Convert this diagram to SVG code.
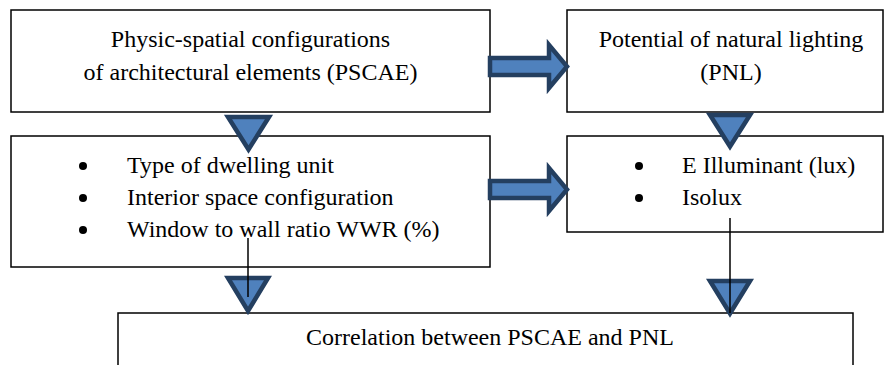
<svg xmlns="http://www.w3.org/2000/svg" width="884" height="365" viewBox="0 0 884 365">
<defs>
<style>
.box{fill:#fff;stroke:#000;stroke-width:1.5}
.t{font-family:"Liberation Serif","Times New Roman",serif;font-size:24px;fill:#000}
.c{text-anchor:middle}
.blk{fill:#4F81BD;stroke:#243F60;stroke-width:4.5;stroke-linejoin:miter}
.ln{stroke:#000;stroke-width:1.5;fill:none}
.dot{fill:#000}
</style>
</defs>
<rect width="884" height="365" fill="#fff"/>
<g id="node-pscae">
<rect class="box" x="11" y="10" width="479" height="102"/>
<text class="t c" x="250.5" y="47">Physic-spatial configurations</text>
<text class="t c" x="250.5" y="80">of architectural elements (PSCAE)</text>
</g>
<g id="node-pnl">
<rect class="box" x="567" y="10" width="316" height="102"/>
<text class="t c" x="731" y="47">Potential of natural lighting</text>
<text class="t c" x="731" y="80">(PNL)</text>
</g>
<g id="node-pscae-items">
<rect class="box" x="11" y="136" width="479" height="131"/>
<circle class="dot" cx="83" cy="166" r="4"/>
<circle class="dot" cx="83" cy="198" r="4"/>
<circle class="dot" cx="83" cy="230" r="4"/>
<text class="t" x="127" y="173">Type of dwelling unit</text>
<text class="t" x="127" y="205">Interior space configuration</text>
<text class="t" x="127" y="237">Window to wall ratio WWR (%)</text>
</g>
<g id="node-pnl-items">
<rect class="box" x="567" y="136" width="316" height="96"/>
<circle class="dot" cx="639" cy="166" r="4"/>
<circle class="dot" cx="639" cy="198" r="4"/>
<text class="t" x="682" y="173">E Illuminant (lux)</text>
<text class="t" x="682" y="205">Isolux</text>
</g>
<g id="node-correlation">
<rect class="box" x="118" y="313" width="735" height="70"/>
<text class="t c" x="490" y="345">Correlation between PSCAE and PNL</text>
</g>
<g id="connectors">
<path class="blk" d="M490,58 H549 V45 L567,66.5 L549,88 V75 H490 Z"/>
<path class="blk" d="M490,181 H549 V168 L567,189.5 L549,211 V198 H490 Z"/>
<path class="blk" d="M228,117 H269 L248.5,149.5 Z"/>
<path class="blk" d="M710,115 H750 L730,146.5 Z"/>
<path class="blk" d="M228,278 H268 L248,311 Z"/>
<path class="blk" d="M710,281 H750 L730,313.5 Z"/>
<line class="ln" x1="248" y1="238" x2="248" y2="297"/>
<line class="ln" x1="730" y1="218" x2="730" y2="313"/>
</g>
</svg>
